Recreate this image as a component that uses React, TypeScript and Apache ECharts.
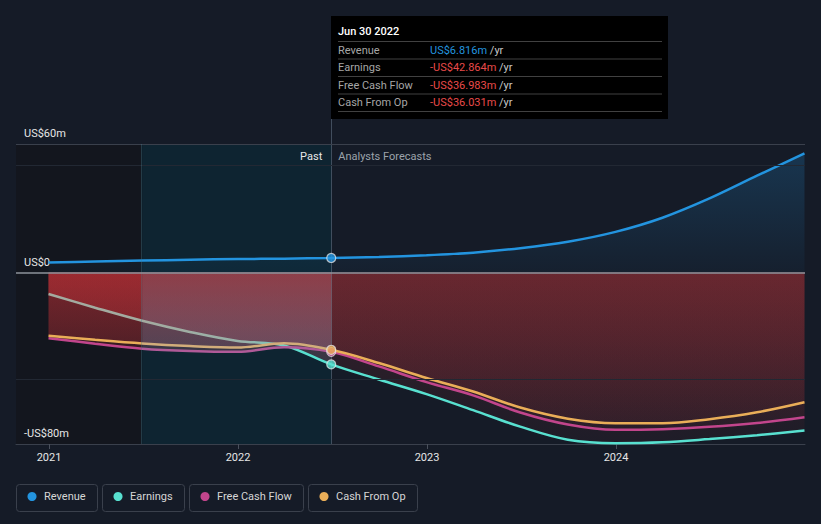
import React, { useEffect, useRef } from 'react';
import * as echarts from 'echarts';

// ---------- data ----------
const pastDates = ['2020-12-31', '2021-03-31', '2021-06-30', '2021-09-30', '2021-12-31', '2022-03-31', '2022-06-30'];
const forecastDates = ['2022-06-30', '2022-09-30', '2022-12-31', '2023-03-31', '2023-06-30', '2023-09-30', '2023-12-31', '2024-03-31', '2024-06-30', '2024-09-30', '2024-12-31'];

const revenuePast = [4.7, 5.2, 5.6, 6.0, 6.3, 6.5, 6.816];
const revenueForecast = [6.816, 7.25, 8.1, 9.3, 11.4, 14.4, 19.0, 25.6, 34.6, 45.2, 55.6];
const earningsPast = [-10.0, -16.4, -22.5, -27.7, -31.9, -34.0, -42.864];
const earningsForecast = [-42.864, -49.9, -56.7, -64.2, -71.9, -78.0, -79.6, -79.2, -77.7, -75.9, -73.7];
const fcfPast = [-30.6, -33.2, -35.5, -36.6, -37.0, -34.8, -36.983];
const fcfForecast = [-36.983, -43.8, -51.1, -57.3, -65.3, -70.9, -73.4, -73.1, -72.0, -70.2, -67.5];
const cfoPast = [-29.5, -31.4, -33.1, -34.3, -35.0, -33.0, -36.031];
const cfoForecast = [-36.031, -42.2, -49.2, -55.5, -63.0, -68.2, -70.3, -70.3, -68.4, -65.2, -60.5];

const seriesNames = ['Revenue', 'Earnings', 'Free Cash Flow', 'Cash From Op'];
const seriesColors = ['#2394df', '#58e0d0', '#c2458c', '#eaae58'];
const mutedColors = ['#2394df', '#98b2aa', '#b05a98', '#d2ad7a'];

const yTickValues = [-80, 0, 60];
const yGridValues = [50, -50];
const yMin = -80;
const yMax = 60;
const xTickYears = [2021, 2022, 2023, 2024];
const axisStartDate = '2020-10-29';
const axisEndDate = '2025-01-01';
const highlightStartDate = '2021-06-30';

const BG = '#151b27';
const FONT = 'Roboto';
const SMOOTH = 0.35;
const MONTHS = ['Jan', 'Feb', 'Mar', 'Apr', 'May', 'Jun', 'Jul', 'Aug', 'Sep', 'Oct', 'Nov', 'Dec'];

function toYear(d: string): number {
  const [y, m, day] = d.split('-').map(Number);
  const t = Date.UTC(y, m - 1, day);
  const s = Date.UTC(y, 0, 1);
  const e = Date.UTC(y + 1, 0, 1);
  return y + (t - s) / (e - s);
}
const pts = (dates: string[], vals: number[]) => dates.map((d, i) => [toYear(d), vals[i]]);
const fmtMoney = (v: number) => (v < 0 ? '-' : '') + 'US$' + Math.abs(v).toFixed(3) + 'm';
const fmtDate = (d: string) => {
  const [y, m, day] = d.split('-').map(Number);
  return `${MONTHS[m - 1]} ${day} ${y}`;
};
const vGrad = (c1: string, c2: string) =>
  new echarts.graphic.LinearGradient(0, 0, 0, 1, [
    { offset: 0, color: c1 },
    { offset: 1, color: c2 },
  ]);
const hGrad = (stops: [number, string][]) =>
  new echarts.graphic.LinearGradient(0, 0, 1, 0, stops.map(([offset, color]) => ({ offset, color })));

export default function App() {
  const ref = useRef<HTMLDivElement>(null);

  useEffect(() => {
    document.body.style.margin = '0';
    document.body.style.background = BG;
    const chart = echarts.init(ref.current!, undefined, { renderer: 'svg' });

    const pastList = [revenuePast, earningsPast, fcfPast, cfoPast];
    const foreList = [revenueForecast, earningsForecast, fcfForecast, cfoForecast];
    const full = pastList.map((p, i) => [...pts(pastDates, p), ...pts(forecastDates, foreList[i]).slice(1)]);

    const xMin = toYear(axisStartDate);
    const xMax = toYear(axisEndDate);
    const hlStart = toYear(highlightStartDate);
    const pastEnd = toYear(pastDates[pastDates.length - 1]);
    const x0 = toYear(pastDates[0]);
    const x1 = toYear(forecastDates[forecastDates.length - 1]);
    const fB = (hlStart - x0) / (x1 - x0);
    const fP = (pastEnd - x0) / (x1 - x0);
    const idxB = pastDates.indexOf(highlightStartDate);

    // fill layers for the three negative series
    const segColors: Record<string, { main: [string, string]; other: [string, string] }> = {
      A: { main: ['rgba(178,46,52,0.6)', 'rgba(178,46,52,0.4)'], other: ['rgba(178,46,52,0.4)', 'rgba(178,46,52,0.22)'] },
      B: { main: ['rgba(160,66,76,0.5)', 'rgba(150,96,116,0.3)'], other: ['rgba(160,66,76,0.5)', 'rgba(150,96,116,0.3)'] },
      C: { main: ['rgba(180,50,55,0.22)', 'rgba(180,50,55,0.06)'], other: ['rgba(180,50,55,0.22)', 'rgba(180,50,55,0.06)'] },
    };
    const fillSeries: any[] = [];
    [1, 2, 3].forEach((si) => {
      const past = pts(pastDates, pastList[si]);
      const segs: Record<string, number[][]> = {
        A: past.slice(0, idxB + 1),
        B: past.slice(idxB),
        C: pts(forecastDates, foreList[si]),
      };
      Object.keys(segs).forEach((k) => {
        const c = si === 1 ? segColors[k].main : segColors[k].other;
        fillSeries.push({
          type: 'line',
          data: segs[k],
          smooth: SMOOTH,
          symbol: 'none',
          silent: true,
          z: 2,
          lineStyle: { width: 0, opacity: 0 },
          areaStyle: { color: vGrad(c[0], c[1]), opacity: 1 },
          emphasis: { disabled: true },
        });
      });
    });

    const lineColor = (i: number) => {
      if (i === 0) return seriesColors[0];
      if (i === 1)
        return hGrad([
          [0, '#a3aba0'],
          [fB, '#a3aba0'],
          [fB + (fP - fB) * 0.55, '#98b2aa'],
          [fB + (fP - fB) * 0.72, '#78cac0'],
          [fB + (fP - fB) * 0.85, seriesColors[1]],
          [1, seriesColors[1]],
        ]);
      return hGrad([
        [0, seriesColors[i]],
        [fB, seriesColors[i]],
        [fB, mutedColors[i]],
        [fP, mutedColors[i]],
        [fP, seriesColors[i]],
        [1, seriesColors[i]],
      ]);
    };

    const lineSeries = full.map((data, i) => ({
      type: 'line',
      name: seriesNames[i],
      data,
      smooth: i === 0 ? 0.3 : SMOOTH,
      symbol: 'none',
      silent: true,
      z: 4,
      itemStyle: { color: seriesColors[i] },
      lineStyle: { width: 2.5, color: lineColor(i) },
      areaStyle:
        i === 0 ? { color: vGrad('rgba(35,148,223,0.22)', 'rgba(35,148,223,0.04)'), opacity: 1 } : undefined,
      emphasis: { disabled: true },
    }));

    const dotOrder = [2, 3, 1, 0];
    const option: any = {
      animation: false,
      backgroundColor: BG,
      grid: { left: 16, right: 16, top: 144, bottom: 80, containLabel: false, outerBoundsMode: 'none' },
      xAxis: {
        type: 'value',
        min: xMin,
        max: xMax,
        splitLine: { show: false },
        axisLine: { show: true, onZero: false, lineStyle: { color: '#3a404c', width: 1 } },
        axisTick: { show: true, customValues: xTickYears, length: 5, lineStyle: { color: '#4a505c' } },
        axisLabel: {
          customValues: xTickYears,
          color: '#e6e6e6',
          fontSize: 11,
          fontFamily: FONT,
          margin: 8,
          formatter: (v: number) => String(Math.round(v)),
        },
      },
      yAxis: {
        type: 'value',
        min: yMin,
        max: yMax,
        z: 1.5,
        splitLine: { show: false },
        axisLine: { show: false },
        axisTick: { show: false },
        axisLabel: {
          customValues: yTickValues,
          inside: true,
          margin: 8,
          verticalAlign: 'bottom',
          padding: [0, 0, 5, 0],
          color: '#e6e6e6',
          fontSize: 11,
          fontFamily: FONT,
          formatter: (v: number) => (v === 0 ? 'US$0' : (v < 0 ? '-' : '') + 'US$' + Math.abs(v) + 'm'),
        },
      },
      series: [
        {
          type: 'line',
          data: [],
          z: 0,
          silent: true,
          markArea: {
            silent: true,
            data: [
              [{ xAxis: xMin, itemStyle: { color: '#13161e' } }, { xAxis: hlStart }],
              [{ xAxis: hlStart, itemStyle: { color: '#0e2431' } }, { xAxis: pastEnd }],
            ],
          },
          markLine: {
            silent: true,
            symbol: ['none', 'none'],
            label: { show: false },
            data: [
              { yAxis: yMax, lineStyle: { color: '#3a404c', width: 1, type: 'solid' } },
              ...yGridValues.map((v) => ({ yAxis: v, lineStyle: { color: '#222833', width: 1, type: 'solid' } })),
              { xAxis: hlStart, lineStyle: { color: 'rgba(70,130,150,0.35)', width: 1, type: 'solid' } },
            ],
          },
        },
        ...fillSeries,
        {
          type: 'line',
          data: [],
          z: 3,
          silent: true,
          markLine: {
            silent: true,
            symbol: ['none', 'none'],
            label: { show: false },
            data: [{ yAxis: 0, lineStyle: { color: '#8e939b', width: 1.5, type: 'solid' } }],
          },
        },
        ...lineSeries,
        {
          type: 'scatter',
          z: 5,
          silent: true,
          symbolSize: 9,
          data: dotOrder.map((i) => ({
            value: [pastEnd, pastList[i][pastList[i].length - 1]],
            itemStyle: { color: seriesColors[i], borderColor: 'rgba(235,235,235,0.9)', borderWidth: 1.2 },
          })),
        },
      ],
    };
    chart.setOption(option);

    const [px] = chart.convertToPixel({ gridIndex: 0 }, [pastEnd, yMax]) as number[];
    const [, pyTop] = chart.convertToPixel({ gridIndex: 0 }, [pastEnd, yMax]) as number[];
    const [, pyBottom] = chart.convertToPixel({ gridIndex: 0 }, [pastEnd, yMin]) as number[];

    const ctx = document.createElement('canvas').getContext('2d')!;
    ctx.font = `11px ${FONT}`;

    const g: any[] = [];
    // vertical "now" line
    g.push({
      type: 'line',
      z: 3,
      silent: true,
      shape: { x1: Math.round(px) + 0.5, y1: 16, x2: Math.round(px) + 0.5, y2: pyBottom },
      style: { stroke: 'rgba(120,140,160,0.45)', lineWidth: 1 },
    });
    // Past / forecast labels
    g.push({
      type: 'text',
      z: 6,
      style: { text: 'Past', x: px - 9, y: pyTop + 12, align: 'right', verticalAlign: 'middle', fill: '#e8e8e8', font: `11px ${FONT}` },
    });
    g.push({
      type: 'text',
      z: 6,
      style: { text: 'Analysts Forecasts', x: px + 7, y: pyTop + 12, align: 'left', verticalAlign: 'middle', fill: '#9ca3ab', font: `11px ${FONT}` },
    });

    // tooltip box
    const tipX = Math.round(px);
    g.push({ type: 'rect', z: 10, shape: { x: tipX, y: 16, width: 337, height: 103 }, style: { fill: '#000' } });
    g.push({
      type: 'text',
      z: 11,
      style: {
        text: fmtDate(pastDates[pastDates.length - 1]),
        x: tipX + 7,
        y: 31,
        verticalAlign: 'middle',
        fill: '#ffffff',
        font: `500 11px ${FONT}`,
      },
    });
    const rowH = 17.5;
    const sep0 = 41.5;
    for (let i = 0; i <= 4; i++) {
      g.push({
        type: 'line',
        z: 11,
        shape: { x1: tipX + 7, y1: sep0 + i * rowH, x2: tipX + 331, y2: sep0 + i * rowH },
        style: { stroke: '#414141', lineWidth: 1 },
      });
    }
    seriesNames.forEach((name, i) => {
      const v = pastList[i][pastList[i].length - 1];
      const y = sep0 + i * rowH + 8.5;
      g.push({
        type: 'text',
        z: 11,
        style: { text: name, x: tipX + 7, y, verticalAlign: 'middle', fill: '#a6a6a6', font: `11px ${FONT}` },
      });
      g.push({
        type: 'text',
        z: 11,
        style: {
          text: `{v|${fmtMoney(v)}} {u|/yr}`,
          x: tipX + 99,
          y,
          verticalAlign: 'middle',
          font: `11px ${FONT}`,
          rich: {
            v: { fill: v < 0 ? '#e84a4a' : seriesColors[0], font: `11px ${FONT}` },
            u: { fill: '#c8c8c8', font: `11px ${FONT}` },
          },
        },
      });
    });

    // legend
    let cx = 16;
    const ly = 484;
    const lh = 27;
    seriesNames.forEach((name, i) => {
      const w = ctx.measureText(name).width;
      const bw = Math.round(28 + w + 11);
      g.push({
        type: 'rect',
        z: 6,
        shape: { x: cx + 0.5, y: ly + 0.5, width: bw, height: lh, r: 3 },
        style: { fill: 'none', stroke: '#3a404c', lineWidth: 1 },
      });
      g.push({ type: 'circle', z: 6, shape: { cx: cx + 16, cy: ly + 12.5, r: 4.5 }, style: { fill: seriesColors[i] } });
      g.push({
        type: 'text',
        z: 6,
        style: { text: name, x: cx + 28, y: ly + 12.5, verticalAlign: 'middle', fill: '#d6d6d6', font: `11px ${FONT}` },
      });
      cx += bw + 5;
    });

    chart.setOption({ graphic: g });

    return () => chart.dispose();
  }, []);

  return <div ref={ref} style={{ position: 'fixed', left: 0, top: 0, width: 821, height: 524, background: BG }} />;
}
